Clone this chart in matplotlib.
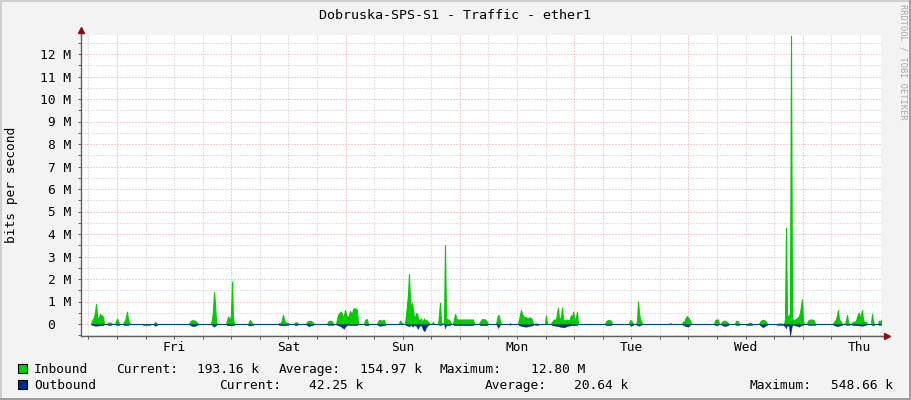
import matplotlib
matplotlib.use('Agg')
import matplotlib.pyplot as plt
from matplotlib.ticker import MultipleLocator, FuncFormatter
from matplotlib.patches import Rectangle
import numpy as np

title = 'Dobruska-SPS-S1 - Traffic - ether1'
ylabel = 'bits per second'
credit = 'RRDTOOL / TOBI OETIKER'
day_names = ['Thu', 'Fri', 'Sat', 'Sun', 'Mon', 'Tue', 'Wed', 'Thu']

# rrd rows: one row per 756 s, graph starts Thu 16:26 (hours since Thu 00:00)
start_h = 16.44
step_h = 168 / 800
n_rows = 800

# inbound, Mbit/s (row index, value)
in_idx = [10, 11, 13, 14, 15, 16, 17, 18, 19, 20, 21, 22, 23,
          26, 27, 30, 31,
          34, 35, 36, 37, 38,
          42, 43, 44, 45, 46, 47, 48, 49,
          73, 74, 75, 76,
          108, 109, 111, 114, 116, 117,
          130, 131, 132, 133, 134, 135, 136,
          145, 146, 147, 148, 149, 150, 151, 152, 153, 154,
          167, 168, 169, 170, 172,
          197, 198, 200, 201, 202, 203, 204, 207, 208,
          213, 214, 216, 217,
          225, 226, 228, 230, 232, 233,
          246, 247, 249, 251, 252,
          255, 256, 257, 258, 260, 261, 262, 263, 264, 265, 266, 267, 268, 269, 270, 271, 272, 273, 275, 276, 277,
          283, 284, 285, 286, 287,
          296, 297, 298, 301, 303, 304,
          318, 319, 321, 322,
          324, 325, 326, 327, 328, 329, 330, 331, 332, 333, 334, 335, 336, 337, 338, 339, 340, 341, 342, 343, 344, 345, 346, 348, 349,
          351, 352, 353,
          357, 358, 359, 360, 361,
          362, 363, 364, 365, 366, 368, 369, 370,
          372, 373, 374, 375, 376, 392, 393,
          398, 399, 401, 404, 406, 407,
          415, 416, 417, 418, 419, 420,
          428, 429, 430,
          437, 438, 439, 440, 441, 443, 445, 447, 449, 451, 452,
          453, 455, 457,
          464, 465, 466,
          470, 471, 473, 475, 477, 478, 480, 481, 482, 484, 486, 488, 489, 490, 491, 492, 494, 495, 496, 497,
          524, 525, 527, 530, 531,
          548, 549, 551, 552,
          555, 556, 557, 558, 559, 560, 561,
          588, 589, 591,
          601, 602, 603, 604, 605, 606, 607, 609, 610,
          633, 634, 635, 637, 638,
          640, 641, 643, 645, 647, 648,
          654, 655, 657, 658,
          667, 668, 670, 671,
          678, 679, 681, 683, 685, 686,
          696, 697, 701, 702,
          703, 704, 705, 706, 708, 709, 710, 711, 712, 714, 716, 718, 719, 720, 721, 722, 723,
          726, 727, 729, 731, 733, 734,
          752, 753, 755, 756, 757, 758, 760, 761,
          764, 765, 766, 767, 768,
          770, 771, 772, 774, 775, 776, 777, 778, 779, 780, 781, 782, 783, 785, 786,
          790, 791, 792, 793,
          797, 798, 799, 800]
in_val = [0, 0.15, 0.3, 0.5, 0.89, 0.35, 0.2, 0.3, 0.45, 0.4, 0.38, 0.3, 0,
          0, 0.06, 0.06, 0,
          0, 0.1, 0.24, 0.15, 0,
          0, 0.1, 0.15, 0.3, 0.55, 0.2, 0.1, 0,
          0, 0.1, 0.05, 0,
          0, 0.1, 0.17, 0.15, 0.05, 0,
          0, 0.2, 0.6, 1.42, 0.9, 0.1, 0,
          0, 0.15, 0.33, 0.25, 0.2, 0.4, 1.88, 0.2, 0.05, 0,
          0, 0.1, 0.18, 0.1, 0,
          0, 0.03, 0.05, 0.2, 0.4, 0.2, 0.08, 0.05, 0,
          0, 0.07, 0.07, 0,
          0, 0.1, 0.14, 0.14, 0.05, 0,
          0, 0.1, 0.15, 0.12, 0,
          0, 0.2, 0.4, 0.47, 0.55, 0.45, 0.3, 0.4, 0.62, 0.45, 0.33, 0.3, 0.4, 0.58, 0.5, 0.45, 0.65, 0.7, 0.68, 0.6, 0,
          0, 0.15, 0.22, 0.2, 0,
          0, 0.1, 0.18, 0.15, 0.18, 0,
          0, 0.15, 0.05, 0,
          0, 0.4, 0.84, 1.3, 2.22, 1.0, 0.7, 0.95, 0.6, 0.3, 0.3, 0.47, 0.47, 0.25, 0.15, 0.2, 0.25, 0.1, 0.15, 0.25, 0.1, 0.2, 0.15, 0.05, 0,
          0, 0.1, 0,
          0, 0.4, 0.95, 0.1, 0,
          0, 0.1, 3.51, 0.3, 0.2, 0.2, 0.1, 0,
          0, 0.2, 0.45, 0.3, 0.2, 0.2, 0,
          0, 0.1, 0.22, 0.2, 0.1, 0,
          0, 0.2, 0.4, 0.35, 0.1, 0,
          0, 0.03, 0,
          0, 0.2, 0.4, 0.62, 0.45, 0.3, 0.3, 0.25, 0.3, 0.2, 0,
          0, 0.02, 0,
          0, 0.38, 0,
          0, 0.1, 0.2, 0.2, 0.73, 0.2, 0.3, 0.73, 0.2, 0.15, 0.2, 0.15, 0.25, 0.4, 0.2, 0.55, 0.1, 0.3, 0.55, 0,
          0, 0.12, 0.18, 0.15, 0,
          0, 0.18, 0.1, 0,
          0, 0.1, 1.0, 0.5, 0.2, 0.15, 0,
          0, 0.04, 0,
          0, 0.12, 0.05, 0.2, 0.3, 0.35, 0.3, 0.15, 0,
          0, 0.15, 0.2, 0.2, 0,
          0, 0.1, 0.15, 0.12, 0.05, 0,
          0, 0.14, 0.12, 0,
          0, 0.06, 0.05, 0,
          0, 0.1, 0.18, 0.18, 0.1, 0,
          0, 0.02, 0.02, 0,
          0, 0.2, 4.27, 0.37, 0.37, 0.5, 12.8, 0.3, 0.15, 0.2, 0.25, 0.35, 0.5, 0.8, 1.1, 0.2, 0,
          0, 0.15, 0.2, 0.2, 0.15, 0,
          0, 0.1, 0.2, 0.4, 0.62, 0.2, 0.1, 0,
          0, 0.15, 0.4, 0.1, 0,
          0, 0.05, 0.1, 0.1, 0.15, 0.3, 0.45, 0.5, 0.2, 0.4, 0.62, 0.2, 0.1, 0.1, 0,
          0, 0.45, 0.1, 0,
          0, 0.15, 0.05, 0.19]

# outbound, Mbit/s, drawn below the zero line
out_idx = [10, 11, 15, 19, 22, 23,
           26, 27, 30, 31,
           34, 35, 38, 39,
           42, 43, 47, 48,
           61, 62, 69, 70,
           72, 73, 74, 76, 77,
           108, 109, 112, 114, 116, 117,
           130, 131, 133, 135, 136,
           145, 146, 149, 153, 154,
           166, 167, 169, 172, 173,
           197, 198, 202, 207, 208,
           213, 214, 216, 217,
           225, 226, 228, 230, 232, 233,
           246, 247, 252, 253,
           255, 256, 259, 261, 263, 264, 266, 276, 277,
           283, 284, 287, 288,
           296, 297, 299, 302, 304, 305,
           324, 325, 328, 330, 332, 333, 335, 337, 338, 340, 342, 343, 344, 345, 347, 349,
           357, 358, 360, 361,
           363, 364, 365, 369, 370,
           372, 373, 392, 393,
           398, 399, 406, 407,
           415, 416, 417, 418, 419, 420,
           428, 429, 430,
           437, 438, 441, 445, 449, 452, 453, 454, 457, 458,
           470, 471, 475, 479, 483, 487, 491, 496, 497,
           524, 525, 530, 531,
           548, 549, 550, 552, 553,
           555, 556, 558, 560, 561,
           601, 602, 605, 607, 609, 610,
           633, 634, 637, 638,
           640, 641, 644, 647, 648,
           654, 655, 658, 659,
           664, 665, 671, 672,
           678, 679, 682, 684, 686, 687,
           695, 696, 702, 704, 705, 706, 708, 709, 710, 711, 713, 716, 718, 720, 722, 723,
           726, 727, 734, 735,
           752, 753, 756, 758, 761, 762,
           764, 765, 768, 769,
           770, 771, 777, 781, 785, 786,
           790, 791, 793, 794,
           797, 798, 800]
out_val = [0, 0.05, 0.08, 0.06, 0.05, 0,
           0, 0.04, 0.04, 0,
           0, 0.04, 0.04, 0,
           0, 0.05, 0.05, 0,
           0, 0.04, 0.04, 0,
           0, 0.04, 0.08, 0.04, 0,
           0, 0.05, 0.1, 0.08, 0.04, 0,
           0, 0.05, 0.12, 0.05, 0,
           0, 0.05, 0.06, 0.05, 0,
           0, 0.04, 0.07, 0.04, 0,
           0, 0.04, 0.06, 0.04, 0,
           0, 0.05, 0.05, 0,
           0, 0.05, 0.1, 0.06, 0.04, 0,
           0, 0.04, 0.04, 0,
           0, 0.05, 0.08, 0.15, 0.22, 0.12, 0.05, 0.05, 0,
           0, 0.05, 0.05, 0,
           0, 0.05, 0.08, 0.06, 0.05, 0,
           0, 0.05, 0.1, 0.05, 0.12, 0.05, 0.08, 0.22, 0.1, 0.05, 0.25, 0.31, 0.3, 0.15, 0.05, 0,
           0, 0.04, 0.04, 0,
           0, 0.2, 0.06, 0.05, 0,
           0, 0.05, 0.05, 0,
           0, 0.05, 0.05, 0,
           0, 0.06, 0.18, 0.1, 0.04, 0,
           0, 0.04, 0,
           0, 0.05, 0.1, 0.12, 0.08, 0.05, 0, 0.04, 0.04, 0,
           0, 0.05, 0.08, 0.12, 0.15, 0.08, 0.05, 0.05, 0,
           0, 0.05, 0.05, 0,
           0, 0.05, 0.08, 0.04, 0,
           0, 0.04, 0.08, 0.04, 0,
           0, 0.04, 0.1, 0.12, 0.04, 0,
           0, 0.05, 0.05, 0,
           0, 0.05, 0.1, 0.05, 0,
           0, 0.04, 0.04, 0,
           0, 0.04, 0.04, 0,
           0, 0.05, 0.15, 0.08, 0.04, 0,
           0, 0.04, 0.04, 0.1, 0.2, 0.05, 0.1, 0.55, 0.3, 0.05, 0.05, 0.08, 0.12, 0.06, 0.04, 0,
           0, 0.04, 0.04, 0,
           0, 0.05, 0.1, 0.08, 0.04, 0,
           0, 0.04, 0.04, 0,
           0, 0.04, 0.06, 0.08, 0.04, 0,
           0, 0.05, 0.04, 0,
           0, 0.04, 0.04]

in_stats = ['193.16 k', '154.97 k', '12.80 M']
out_stats = ['42.25 k', '20.64 k', '548.66 k']

green = '#00CC00'
blue = '#002A97'
mono = 'DejaVu Sans Mono'
fs = 9.3

W, H = 911, 400
fig = plt.figure(figsize=(W / 100, H / 100), dpi=100, facecolor='#F3F3F3')

def px(x, y):
    return x / W, 1 - y / H

# plot area 81..881 x 35..336 px
ax = fig.add_axes([81 / W, (H - 336) / H, 800 / W, 301 / H])
ax.set_facecolor('white')

t_in = start_h + np.array(in_idx) * step_h
t_out = start_h + np.array(out_idx) * step_h
ax.fill_between(t_in, 0, in_val, color=green, lw=0.8, zorder=3)
ax.fill_between(t_out, 0, -np.array(out_val), color=blue, lw=0.3, zorder=3)

ax.set_xlim(start_h, start_h + n_rows * step_h)
ax.set_ylim(-12 / 22.5, 289 / 22.5)

ax.xaxis.set_major_locator(MultipleLocator(24))
ax.xaxis.set_minor_locator(MultipleLocator(6))
ax.xaxis.set_major_formatter(FuncFormatter(lambda v, p: ''))
ax.xaxis.set_minor_formatter(FuncFormatter(
    lambda v, p: day_names[int(v // 24)] if abs(v % 24 - 12) < 0.01 else ''))
ax.yaxis.set_major_locator(MultipleLocator(1))
ax.yaxis.set_minor_locator(MultipleLocator(0.5))
ax.yaxis.set_major_formatter(FuncFormatter(
    lambda v, p: '%d M' % round(v) if round(v) != 0 else '0  '))

ax.set_axisbelow(True)
ax.grid(which='major', color='#E8A0A0', lw=0.72, linestyle=(0, (1, 2)))
ax.grid(which='minor', color='#C4C4C4', lw=0.72, linestyle=(0, (1, 2)))

for s in ['top', 'right']:
    ax.spines[s].set_visible(False)
for s in ['left', 'bottom']:
    ax.spines[s].set_color('#606060')
    ax.spines[s].set_linewidth(1.0)

ax.tick_params(which='both', direction='out', length=2, width=0.72, color='#606060')
ax.tick_params(axis='y', which='both', pad=5, labelsize=fs)
ax.tick_params(axis='x', which='both', pad=1.5, labelsize=fs)
for lbl in ax.get_xticklabels(which='both') + ax.get_yticklabels():
    lbl.set_fontfamily(mono)

# axis arrows
ax.plot([0, 0], [1, 1.015], color='#606060', lw=1.0, transform=ax.transAxes, clip_on=False)
ax.plot([1, 1.006], [0, 0], color='#606060', lw=1.0, transform=ax.transAxes, clip_on=False)
ax.plot([0], [1.015], marker='^', ms=5, color='#8B1010', transform=ax.transAxes, clip_on=False)
ax.plot([1.007], [0], marker='>', ms=5, color='#8B1010', transform=ax.transAxes, clip_on=False)

# frame shading
fig.add_artist(Rectangle((0, 1 - 2 / H), 1, 2 / H, transform=fig.transFigure, color='#CFCFCF', lw=0))
fig.add_artist(Rectangle((0, 0), 2 / W, 1, transform=fig.transFigure, color='#CFCFCF', lw=0))
fig.add_artist(Rectangle((0, 0), 1, 2 / H, transform=fig.transFigure, color='#9E9E9E', lw=0))
fig.add_artist(Rectangle((1 - 2 / W, 0), 2 / W, 1, transform=fig.transFigure, color='#9E9E9E', lw=0))

fig.text(*px(455, 19), title, ha='center', va='baseline', family=mono, size=9.6)
fig.text(*px(12, 185), ylabel, ha='center', va='center', rotation=90, family=mono, size=fs)
fig.text(*px(903, 4), credit, ha='center', va='top', rotation=270, family=mono,
         size=6.2, color='#A8A8A8')

# legend
for y0, clr in [(364, green), (380, blue)]:
    x0, y1 = px(18, y0 + 9)
    fig.add_artist(Rectangle((x0, y1), 9 / W, 9 / H, transform=fig.transFigure,
                             facecolor=clr, edgecolor='black', lw=0.8))

rows = [
    (373.3, 'Inbound', [(116.5, 'Current:'), (279, 'Average:'), (440, 'Maximum:')],
     list(zip([259, 422, 585], in_stats))),
    (389, 'Outbound', [(219.5, 'Current:'), (485, 'Average:'), (750, 'Maximum:')],
     list(zip([363, 628, 893], out_stats))),
]
for yb, name, keys, vals in rows:
    fig.text(*px(34, yb), name, ha='left', va='baseline', family=mono, size=fs)
    for xk, k in keys:
        fig.text(*px(xk, yb), k, ha='left', va='baseline', family=mono, size=fs)
    for xv, v in vals:
        fig.text(*px(xv, yb), v, ha='right', va='baseline', family=mono, size=fs)

fig.savefig('out.png', dpi=100, facecolor=fig.get_facecolor())
